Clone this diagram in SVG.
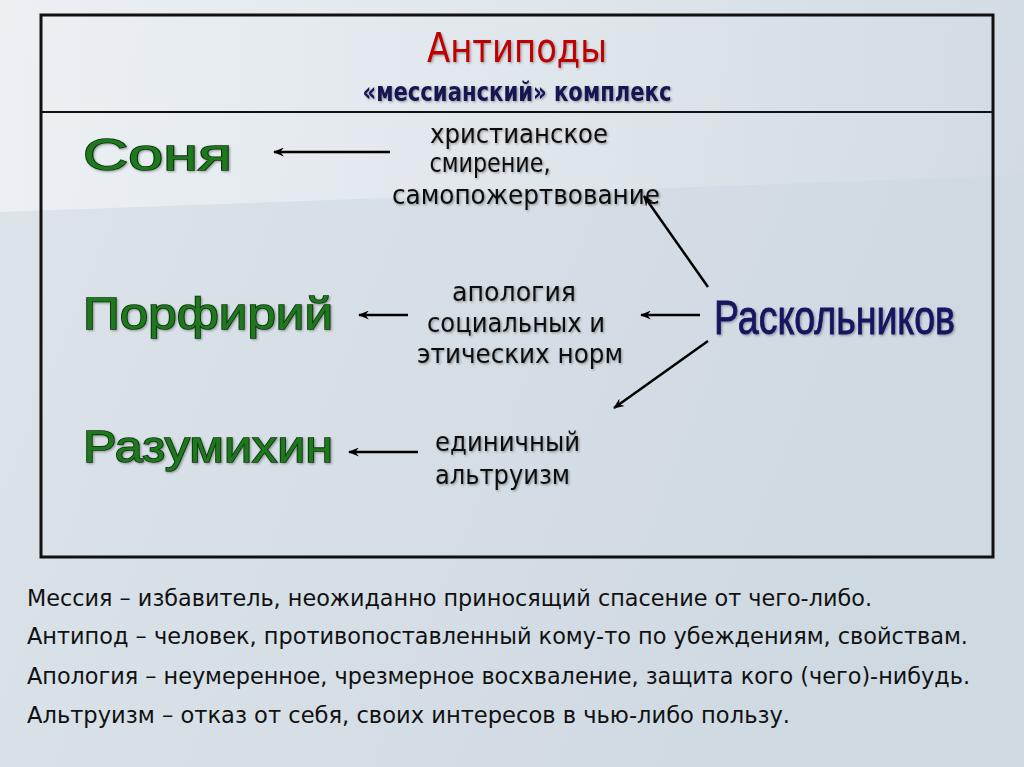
<svg xmlns="http://www.w3.org/2000/svg" width="1024" height="767" viewBox="0 0 1024 767">
<defs>
<linearGradient id="bg" x1="0" y1="0" x2="1" y2="0.3">
<stop offset="0" stop-color="#dde4ea"/>
<stop offset="1" stop-color="#cfd9e2"/>
</linearGradient>
<linearGradient id="hi" x1="0" y1="0" x2="1" y2="0">
<stop offset="0" stop-color="#f0f3f6" stop-opacity="0.8"/>
<stop offset="0.6" stop-color="#e6ecf0" stop-opacity="0.5"/>
<stop offset="1" stop-color="#dde4ea" stop-opacity="0.2"/>
</linearGradient>
<filter id="sh" x="-5%" y="-20%" width="110%" height="140%">
<feDropShadow dx="1.2" dy="1.2" stdDeviation="0.8" flood-color="#000" flood-opacity="0.35"/>
</filter>
<marker id="ah" viewBox="0 0 12 10" refX="11" refY="5" markerWidth="13" markerHeight="9" markerUnits="userSpaceOnUse" orient="auto">
<path d="M0,0 L12,5 L0,10 L4,5 Z" fill="#000"/>
</marker>
</defs>
<style>
.hero{font-family:"Liberation Sans",Arial,sans-serif;font-size:45px;fill:#1f7a1f;stroke:#0b2e0b;stroke-width:1.6;paint-order:stroke;}
.desc{font-family:"DejaVu Sans Condensed","DejaVu Sans",sans-serif;font-size:27px;fill:#111;}
.def{font-family:"DejaVu Sans Condensed","DejaVu Sans",sans-serif;font-size:23px;fill:#111;}
.conn line{stroke:#000;stroke-width:2.5;marker-end:url(#ah);}
</style>
<rect width="1024" height="767" fill="url(#bg)"/>
<polygon points="0,0 1024,0 1024,175 0,212" fill="url(#hi)"/>
<g id="frame">
<rect x="41" y="15" width="952" height="542" fill="none" stroke="#111" stroke-width="3"/>
<line x1="41" y1="112" x2="993" y2="112" stroke="#111" stroke-width="2"/>
</g>
<g id="header">
<text x="517" y="62" text-anchor="middle" font-family="DejaVu Sans Condensed,DejaVu Sans,sans-serif" font-size="40" fill="#c00000" filter="url(#sh)" textLength="180" lengthAdjust="spacingAndGlyphs">Антиподы</text>
<text x="517" y="101" text-anchor="middle" font-family="DejaVu Sans Condensed,DejaVu Sans,sans-serif" font-weight="bold" font-size="26" fill="#141452" filter="url(#sh)" textLength="309" lengthAdjust="spacingAndGlyphs">«мессианский» комплекс</text>
</g>
<g id="sonya"><text class="hero" x="83" y="170" textLength="149" lengthAdjust="spacingAndGlyphs" filter="url(#sh)">Соня</text></g>
<g id="porfiry"><text class="hero" x="83" y="329" textLength="250" lengthAdjust="spacingAndGlyphs" filter="url(#sh)">Порфирий</text></g>
<g id="razumikhin"><text class="hero" x="83" y="462" textLength="250" lengthAdjust="spacingAndGlyphs" filter="url(#sh)">Разумихин</text></g>
<g id="raskolnikov"><text x="714" y="334" font-family="Liberation Sans,Arial,sans-serif" font-size="48" fill="#141460" stroke="#141460" stroke-width="0.8" filter="url(#sh)" textLength="241" lengthAdjust="spacingAndGlyphs">Раскольников</text></g>
<g id="humility" filter="url(#sh)">
<text class="desc" x="519" y="143" text-anchor="middle" textLength="178" lengthAdjust="spacingAndGlyphs">христианское</text>
<text class="desc" x="490" y="172" text-anchor="middle" textLength="121" lengthAdjust="spacingAndGlyphs">смирение,</text>
<text class="desc" x="526" y="204" text-anchor="middle" textLength="268" lengthAdjust="spacingAndGlyphs">самопожертвование</text>
</g>
<g id="apology" filter="url(#sh)">
<text class="desc" x="514" y="301" text-anchor="middle" textLength="124" lengthAdjust="spacingAndGlyphs">апология</text>
<text class="desc" x="516" y="332" text-anchor="middle" textLength="178" lengthAdjust="spacingAndGlyphs">социальных и</text>
<text class="desc" x="520" y="363" text-anchor="middle" textLength="206" lengthAdjust="spacingAndGlyphs">этических норм</text>
</g>
<g id="altruism" filter="url(#sh)">
<text class="desc" x="435" y="451" textLength="145" lengthAdjust="spacingAndGlyphs">единичный</text>
<text class="desc" x="435" y="484" textLength="135" lengthAdjust="spacingAndGlyphs">альтруизм</text>
</g>
<g class="conn" id="connectors">
<line x1="390" y1="152" x2="274" y2="152"/>
<line x1="408" y1="315" x2="359" y2="315"/>
<line x1="418" y1="452" x2="349" y2="452"/>
<line x1="700" y1="315" x2="641" y2="315"/>
<line x1="708" y1="287" x2="644" y2="196"/>
<line x1="708" y1="341" x2="614" y2="408"/>
</g>
<g id="definitions">
<text class="def" x="27" y="606" textLength="845" lengthAdjust="spacingAndGlyphs">Мессия – избавитель, неожиданно приносящий спасение от чего-либо.</text>
<text class="def" x="27" y="644" textLength="941" lengthAdjust="spacingAndGlyphs">Антипод – человек, противопоставленный кому-то по убеждениям, свойствам.</text>
<text class="def" x="27" y="684" textLength="943" lengthAdjust="spacingAndGlyphs">Апология – неумеренное, чрезмерное восхваление, защита кого (чего)-нибудь.</text>
<text class="def" x="27" y="723" textLength="763" lengthAdjust="spacingAndGlyphs">Альтруизм – отказ от себя, своих интересов в чью-либо пользу.</text>
</g>
</svg>
